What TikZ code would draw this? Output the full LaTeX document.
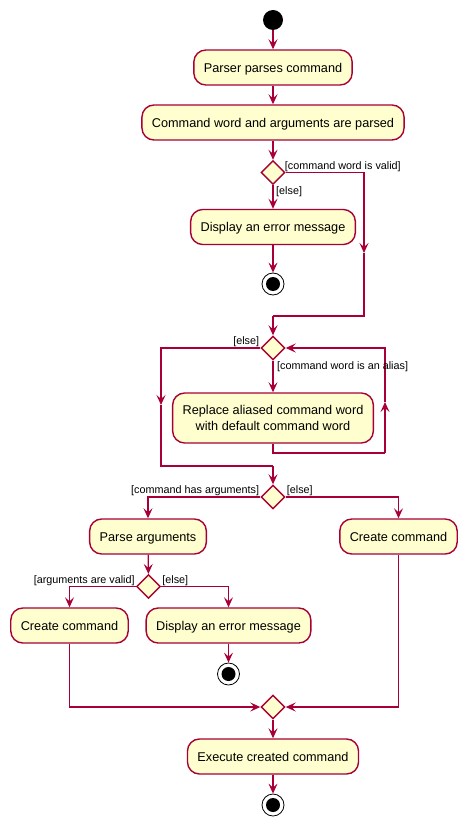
\documentclass[tikz,border=0pt]{standalone}
\usepackage{fontspec}
\setmainfont{Liberation Sans}
\usetikzlibrary{shapes.geometric,arrows.meta}
\definecolor{umlRed}{HTML}{A80036}
\definecolor{umlFill}{HTML}{FEFECE}

\begin{document}
\begin{tikzpicture}[x=1pt,y=-1pt,
	activitytwo/.style={rectangle, draw=umlRed, fill=umlFill, line width=1.4pt, rounded corners=12pt,
	minimum height=35pt, inner xsep=10pt, align=center, font=\fontsize{12.7}{15.5}\selectfont},
	activity/.style={activitytwo, text height=11pt, text depth=1.8pt},
	branch/.style={diamond, draw=umlRed, fill=umlFill, line width=1.4pt, minimum width=24pt,
	minimum height=24pt, inner sep=0pt},
	startnode/.style={circle, fill=black, minimum size=20pt, inner sep=0pt},
	stopnode/.style={circle, draw=black, line width=0.8pt, fill=white, minimum size=22pt, inner sep=0pt,
	path picture={\fill[black] (path picture bounding box.center) circle (7pt);}},
	guard/.style={inner sep=1pt, font=\fontsize{10.8}{13}\selectfont},
	flow/.style={draw=umlRed, line width=1.2pt, -{Stealth[length=10pt,width=9pt,inset=4pt]}},
	link/.style={draw=umlRed, line width=1.2pt}]
			
			\useasboundingbox (0,0) rectangle (466,826);
			
			%Nodes
			\node (Start) at (273,20) [startnode]{};
			\node (ParserParses) at (273,67.5) [activity]{Parser parses command};
			\node (WordsParsed) at (273,122.5) [activity]{Command word and arguments are parsed};
			\node (ValidCheck) at (273,172.5) [branch]{};
			\node (ErrorOne) at (273,227) [activity]{Display an error message};
			\node (EndOne) at (273,284) [stopnode]{};
			\node (AliasCheck) at (273,348) [branch]{};
			\node (ReplaceAlias) at (273,418) [activitytwo, minimum height=50pt]{Replace aliased command word\\with default command word};
			\node (ArgsCheck) at (273,497) [branch]{};
			\node (ParseArgs) at (148,536.5) [activity]{Parse arguments};
			\node (CreateRight) at (398.5,536.5) [activity]{Create command};
			\node (ArgsValid) at (148.5,586.5) [branch]{};
			\node (CreateLeft) at (69.5,625.5) [activity]{Create command};
			\node (ErrorTwo) at (228.5,625.5) [activity]{Display an error message};
			\node (EndTwo) at (228.5,674) [stopnode]{};
			\node (Merge) at (273,707) [branch]{};
			\node (Execute) at (273,756.5) [activity]{Execute created command};
			\node (EndThree) at (273,805) [stopnode]{};
			
			%Bends
			\coordinate (ValidArrow) at (364,253);
			\coordinate (ValidJoin) at (273,316);
			\coordinate (ElseArrow) at (161,405);
			\coordinate (ElseJoin) at (273,466);
			\coordinate (LoopCorner) at (385,453);
			\coordinate (LoopArrow) at (385,402);
			
			%Links
			\draw[flow] (Start) -- (ParserParses);
			\draw[flow] (ParserParses) -- (WordsParsed);
			\draw[flow] (WordsParsed) -- (ValidCheck);
			\draw[flow] (ValidCheck) -- (ErrorOne);
			\draw[flow] (ErrorOne) -- (EndOne);
			\draw[flow] (ValidCheck.east) -| (ValidArrow);
			\draw[link] (ValidArrow) |- (ValidJoin);
			\draw[flow] (ValidJoin) -- (AliasCheck.north);
			\draw[flow] (AliasCheck) -- (ReplaceAlias);
			\draw[link] (ReplaceAlias.south) |- (LoopCorner);
			\draw[flow] (LoopCorner) -- (LoopArrow);
			\draw[flow] (LoopArrow) |- (AliasCheck.east);
			\draw[flow] (AliasCheck.west) -| (ElseArrow);
			\draw[link] (ElseArrow) |- (ElseJoin);
			\draw[flow] (ElseJoin) -- (ArgsCheck.north);
			\draw[flow] (ArgsCheck.west) -| (ParseArgs.north);
			\draw[flow] (ArgsCheck.east) -| (CreateRight.north);
			\draw[flow] (ParseArgs) -- (ArgsValid);
			\draw[flow] (ArgsValid.west) -| (CreateLeft.north);
			\draw[flow] (ArgsValid.east) -| (ErrorTwo.north);
			\draw[flow] (ErrorTwo) -- (EndTwo);
			\draw[flow] (CreateLeft.south) |- (Merge.west);
			\draw[flow] (CreateRight.south) |- (Merge.east);
			\draw[flow] (Merge) -- (Execute);
			\draw[flow] (Execute) -- (EndThree);
			
			%Guards
			\node[guard, anchor=south west, xshift=-2pt] at (ValidCheck.east) {[command word is valid]};
			\node[guard, anchor=north west, xshift=2pt] at (ValidCheck.south) {[else]};
			\node[guard, anchor=south east] at (AliasCheck.west) {[else]};
			\node[guard, anchor=north west, xshift=3pt] at (AliasCheck.south) {[command word is an alias]};
			\node[guard, anchor=south east] at (ArgsCheck.west) {[command has arguments]};
			\node[guard, anchor=south west] at (ArgsCheck.east) {[else]};
			\node[guard, anchor=south east] at (ArgsValid.west) {[arguments are valid]};
			\node[guard, anchor=south west] at (ArgsValid.east) {[else]};
			
			\end{tikzpicture}
\end{document}
